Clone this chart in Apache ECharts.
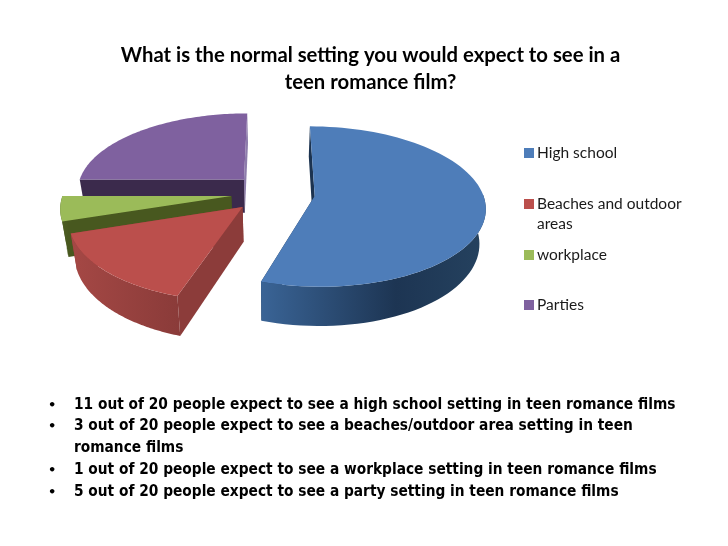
<!DOCTYPE html>
<html><head><meta charset="utf-8">
<style>html,body{margin:0;padding:0;background:#fff}#c{width:728px;height:546px}</style>
<script src="https://cdn.jsdelivr.net/npm/echarts@6/dist/echarts.min.js"></script>
</head><body><div id="c"></div>
<script>
const titleLines = ["What is the normal setting you would expect to see in a", "teen romance film?"];
const categories = ["High school", "Beaches and outdoor areas", "workplace", "Parties"];
const values = [11, 3, 1, 5];
const notes = [
  "11 out of 20 people expect to see a high school setting in teen romance films",
  "3 out of 20 people expect to see a beaches/outdoor area setting in teen",
  "romance films",
  "1 out of 20 people expect to see a workplace setting in teen romance films",
  "5 out of 20 people expect to see a party setting in teen romance films"
];
const noteHasBullet = [true, true, false, true, true];
const noteY = [404, 425, 447, 469, 491];
const legendY = [153, 204, 255, 305];
const topColors = ["#4e7db9", "#bb4f4c", "#9bbb59", "#7f619f"];
const cutColors = ["#1c3350", "#8c3c3a", "#48581f", "#3b2a4c"];
const farWallColors = ["#1c3350", "#8c3c3a", "#48581f", "#8d7cab"];
const arcStops = [
  [[0, "#3a6496"], [0.6, "#1d3553"], [1, "#25425f"]],
  [[0, "#a54845"], [1, "#8a3b39"]],
  [[0, "#4e6024"], [1, "#48581f"]],
  [[0, "#5e4a76"], [1, "#8a78a6"]]
];
const drawOrder = [3, 2, 1, 0];

const X0 = 273, Y0 = 193, F = 168, G = 78, P = 0.13, EX = 0.25, DEPTH = 34, ZS = 0.97;
const total = values.reduce((a, b) => a + b, 0);

function project(wx, wy, low) {
  const w = 1 + P * wy;
  let x = X0 + F * wx / w, y = Y0 - G * wy / w;
  if (low) { x = X0 + (x - X0) * ZS; y += DEPTH / w; }
  return [x, y];
}
function sliceRender(idx) {
  return function (params, api) {
    const v = api.value(0);
    let before = 0;
    for (let i = 0; i < idx; i++) before += values[i];
    const a0 = before / total * 2 * Math.PI, a1 = (before + v) / total * 2 * Math.PI, mid = (a0 + a1) / 2;
    const ox = EX * Math.sin(mid), oy = EX * Math.cos(mid);
    const arc = [], front = [], N = 80;
    for (let i = 0; i <= N; i++) {
      const t = a0 + (a1 - a0) * i / N;
      const p = [ox + Math.sin(t), oy + Math.cos(t)];
      arc.push(p);
      if (Math.cos(t) <= 0.02) front.push(p);
    }
    const top = p => project(p[0], p[1], false), low = p => project(p[0], p[1], true);
    const apex = [ox, oy];
    const poly = (pts, fill) => ({ type: 'polygon', shape: { points: pts }, style: { fill: fill, stroke: null } });
    const wall = (p, c) => poly([top(apex), top(p), low(p), low(apex)], c);
    const arcFill = new echarts.graphic.LinearGradient(0, 0, 1, 0, arcStops[idx].map(s => ({ offset: s[0], color: s[1] })));
    const kids = [wall(arc[N], farWallColors[idx]), wall(arc[0], cutColors[idx])];
    if (front.length > 2) kids.push(poly(front.map(top).concat(front.slice().reverse().map(low)), arcFill));
    kids.push(poly([top(apex)].concat(arc.map(top)), topColors[idx]));
    return { type: 'group', children: kids };
  };
}
const chart = echarts.init(document.getElementById('c'), null, { renderer: 'canvas' });
const series = drawOrder.map(i => ({
  type: 'custom', name: categories[i], coordinateSystem: 'none', silent: true, animation: false,
  clip: false, z: 2, itemStyle: { color: topColors[i] }, data: [[values[i]]], renderItem: sliceRender(i)
}));
const legendFont = { fontFamily: 'Lato', fontSize: 15.5, color: '#1a1a1a' };
const legends = categories.map((c, i) => ({
  data: [{ name: c, icon: 'rect' }], left: 522, top: legendY[i] - 9, orient: 'vertical',
  itemWidth: 10, itemHeight: 10, itemGap: 0, padding: [0, 0, 0, 2], selectedMode: false,
  textStyle: Object.assign({ padding: [0, 0, 0, -2], lineHeight: 18 }, legendFont),
  formatter: n => n === categories[1] ? "Beaches and outdoor" : n
}));
const graphics = [
  { type: 'text', left: 537, top: 216, style: { text: "areas", font: "15.5px Lato", fill: '#1a1a1a' } }
];
notes.forEach((t, i) => {
  if (noteHasBullet[i]) graphics.push({ type: 'text', x: 48, y: noteY[i] - 5, style: { text: "•", font: "bold 13px 'DejaVu Sans'", fill: '#000' } });
  graphics.push({ type: 'text', x: 74, y: noteY[i] - 6, style: { text: t, font: "bold 15.3px 'DejaVu Sans Condensed','DejaVu Sans'", fill: '#000' } });
});
chart.setOption({
  animation: false, backgroundColor: '#fff',
  title: {
    text: titleLines.join("\n"), left: 365.5, top: 37, textAlign: 'center',
    textStyle: { fontFamily: 'Lato', fontWeight: 'bold', fontSize: 20.3, lineHeight: 27, color: '#000' }
  },
  legend: legends, series: series, graphic: graphics
});
</script></body></html>
